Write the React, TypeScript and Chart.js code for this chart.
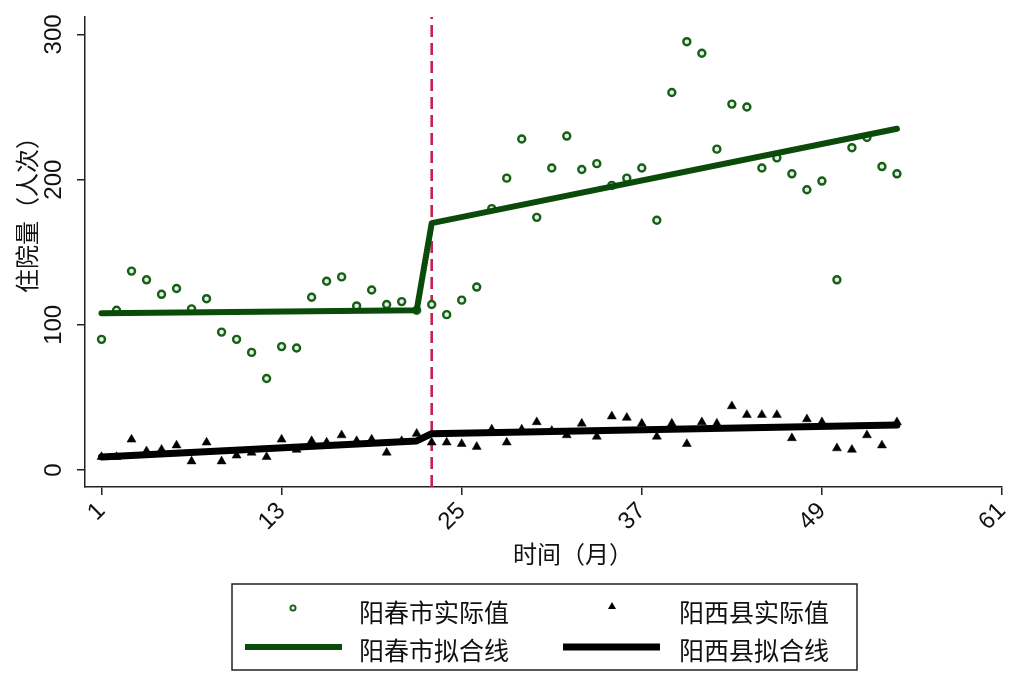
import React, { useEffect, useRef } from 'react';
import { Chart, registerables } from 'chart.js';

Chart.register(...registerables);

// months 1..54
const months = [
  1, 2, 3, 4, 5, 6, 7, 8, 9, 10, 11, 12, 13, 14, 15, 16, 17, 18,
  19, 20, 21, 22, 23, 24, 25, 26, 27, 28, 29, 30, 31, 32, 33, 34, 35, 36,
  37, 38, 39, 40, 41, 42, 43, 44, 45, 46, 47, 48, 49, 50, 51, 52, 53, 54,
];
const yangchunActual = [
  90, 110, 137, 131, 121, 125, 111, 118, 95, 90, 81, 63, 85, 84, 119, 130, 133, 113,
  124, 114, 116, 110, 114, 107, 117, 126, 180, 201, 228, 174, 208, 230, 207, 211, 196, 201,
  208, 172, 260, 295, 287, 221, 252, 250, 208, 215, 204, 193, 199, 131, 222, 229, 209, 204,
];
const yangxiActual = [
  9, 9, 21, 13, 14, 17, 6, 19, 6, 10, 12, 9, 21, 14, 20, 19, 24, 20,
  21, 12, 20, 25, 19, 19, 18, 16, 28, 19, 28, 33, 27, 24, 32, 23, 37, 36,
  32, 23, 32, 18, 33, 32, 44, 38, 38, 38, 22, 35, 33, 15, 14, 24, 17, 33,
];
const fitMonths = [1, 22, 23, 54];
const yangchunFit = [108, 110, 170, 235];
const yangxiFit = [9, 20, 25, 31];
const interventionMonth = 23;

const xTicks = [1, 13, 25, 37, 49, 61];
const yTicks = [0, 100, 200, 300];
const seriesLabels = ['阳春市实际值', '阳西县实际值', '阳春市拟合线', '阳西县拟合线'];
const xTitle = '时间（月）';
const yTitle = '住院量（人次）';

const FONT = "'Liberation Sans', Arial, 'Noto Sans CJK SC', sans-serif";
const GREEN_LINE = '#0a4a0a';
const GREEN_PT = '#175f17';
const Y_MIN = -11.7;
const Y_MAX = 312;

Chart.defaults.font.family = FONT;
Chart.defaults.color = '#111';

// legend + axis titles drawn by hand to get the stata look
const stataLegend = {
  id: 'stataLegend',
  afterDraw(chart: any) {
    const ctx = chart.ctx as CanvasRenderingContext2D;
    ctx.save();

    // axis titles
    ctx.fillStyle = '#111';
    ctx.font = `24px ${FONT}`;
    ctx.textAlign = 'center';
    ctx.textBaseline = 'middle';
    ctx.fillText(xTitle, 573, 556);
    ctx.save();
    ctx.translate(29, 209);
    ctx.rotate(-Math.PI / 2);
    ctx.fillText(yTitle, 0, 0);
    ctx.restore();

    // box
    ctx.strokeStyle = '#222';
    ctx.lineWidth = 1.5;
    ctx.strokeRect(232, 584, 625, 86);

    ctx.font = `25px ${FONT}`;
    ctx.textAlign = 'left';
    ctx.fillStyle = '#111';
    ctx.fillText(chart.data.datasets[2].label, 359, 615);
    ctx.fillText(chart.data.datasets[3].label, 679, 615);
    ctx.fillText(chart.data.datasets[0].label, 359, 653);
    ctx.fillText(chart.data.datasets[1].label, 679, 653);

    // circle marker
    ctx.beginPath();
    ctx.arc(293, 608, 2.6, 0, Math.PI * 2);
    ctx.fillStyle = '#e9f5e9';
    ctx.fill();
    ctx.strokeStyle = GREEN_PT;
    ctx.lineWidth = 1.8;
    ctx.stroke();

    // triangle marker
    ctx.beginPath();
    ctx.moveTo(612, 602);
    ctx.lineTo(616, 609);
    ctx.lineTo(608, 609);
    ctx.closePath();
    ctx.fillStyle = '#000';
    ctx.fill();

    // line samples
    ctx.lineCap = 'butt';
    ctx.lineWidth = 6;
    ctx.strokeStyle = GREEN_LINE;
    ctx.beginPath();
    ctx.moveTo(245, 647);
    ctx.lineTo(342, 647);
    ctx.stroke();
    ctx.lineWidth = 7;
    ctx.strokeStyle = '#000';
    ctx.beginPath();
    ctx.moveTo(563, 647);
    ctx.lineTo(660, 647);
    ctx.stroke();

    ctx.restore();
  },
};

const tickFont = { family: FONT, size: 24 };

const App: React.FC = () => {
  const chartRef = useRef<HTMLCanvasElement>(null);
  const chartInstance = useRef<Chart | null>(null);

  useEffect(() => {
    if (!chartRef.current) return;
    const ctx = chartRef.current.getContext('2d');
    if (!ctx) return;
    if (chartInstance.current) chartInstance.current.destroy();

    chartInstance.current = new Chart(ctx, {
      type: 'line',
      data: {
        datasets: [
          {
            label: seriesLabels[2],
            data: fitMonths.map((m, i) => ({ x: m, y: yangchunFit[i] })),
            borderColor: GREEN_LINE,
            borderWidth: 6,
            borderCapStyle: 'round',
            borderJoinStyle: 'round',
            pointRadius: 0,
            order: 0,
          },
          {
            label: seriesLabels[3],
            data: fitMonths.map((m, i) => ({ x: m, y: yangxiFit[i] })),
            borderColor: '#000',
            borderWidth: 7,
            borderCapStyle: 'round',
            borderJoinStyle: 'round',
            pointRadius: 0,
            order: 0,
          },
          {
            label: seriesLabels[0],
            data: months.map((m, i) => ({ x: m, y: yangchunActual[i] })),
            showLine: false,
            pointStyle: 'circle',
            pointRadius: 3.5,
            pointBorderWidth: 2.4,
            pointBorderColor: GREEN_PT,
            pointBackgroundColor: '#e4f2e4',
            order: 1,
          },
          {
            label: seriesLabels[1],
            data: months.map((m, i) => ({ x: m, y: yangxiActual[i] })),
            showLine: false,
            pointStyle: 'triangle',
            pointRadius: 5.2,
            pointBorderWidth: 0.5,
            pointBorderColor: '#000',
            pointBackgroundColor: '#000',
            order: 1,
          },
          {
            label: 'intervention',
            data: [
              { x: interventionMonth, y: Y_MIN },
              { x: interventionMonth, y: Y_MAX },
            ],
            borderColor: '#c9214f',
            borderWidth: 2.6,
            borderDash: [12, 6],
            pointRadius: 0,
            order: 2,
          },
        ],
      },
      options: {
        responsive: true,
        maintainAspectRatio: false,
        animation: false,
        layout: { padding: { left: 0, right: 14, top: 17, bottom: 137 } },
        plugins: {
          legend: { display: false },
          tooltip: { enabled: false },
        },
        scales: {
          x: {
            type: 'linear',
            min: -0.1,
            max: 61,
            afterBuildTicks: (s: any) => {
              s.ticks = xTicks.map((v) => ({ value: v }));
            },
            afterFit: (s: any) => {
              s.height = 60;
              s.paddingLeft = 0;
              s.paddingRight = 0;
            },
            ticks: {
              minRotation: 45,
              maxRotation: 45,
              padding: 2,
              color: '#111',
              font: tickFont,
            },
            grid: {
              drawOnChartArea: false,
              drawTicks: true,
              tickLength: 8,
              tickColor: '#222',
              lineWidth: 1.5,
            },
            border: { display: true, color: '#222', width: 1.5 },
          },
          y: {
            type: 'linear',
            min: Y_MIN,
            max: Y_MAX,
            afterBuildTicks: (s: any) => {
              s.ticks = yTicks.map((v) => ({ value: v }));
            },
            afterFit: (s: any) => {
              s.width = 85;
              s.paddingTop = 0;
              s.paddingBottom = 0;
            },
            ticks: {
              minRotation: 90,
              maxRotation: 90,
              crossAlign: 'center',
              padding: 3,
              color: '#111',
              font: tickFont,
            },
            grid: {
              drawOnChartArea: false,
              drawTicks: true,
              tickLength: 8,
              tickColor: '#222',
              lineWidth: 1.5,
            },
            border: { display: true, color: '#222', width: 1.5 },
          },
        },
      },
      plugins: [stataLegend],
    } as any);

    return () => {
      if (chartInstance.current) {
        chartInstance.current.destroy();
        chartInstance.current = null;
      }
    };
  }, []);

  return (
    <div style={{ position: 'fixed', left: 0, top: 0, width: 1016, height: 684, background: '#fff' }}>
      <canvas ref={chartRef} />
    </div>
  );
};

export default App;
